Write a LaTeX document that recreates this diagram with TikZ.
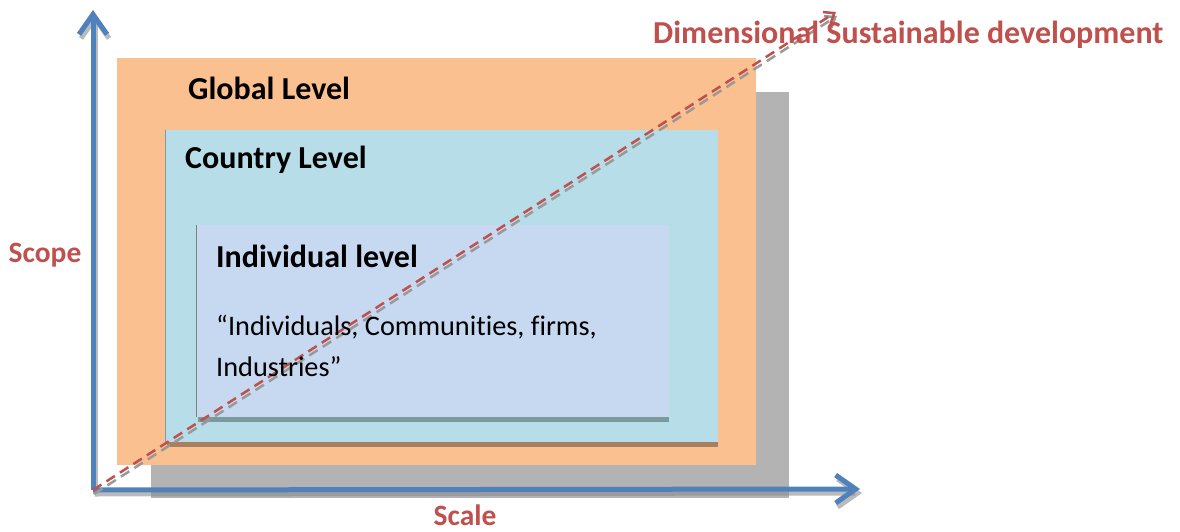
\documentclass[tikz,border=0pt]{standalone}
\usepackage{fontspec}
\setmainfont{Carlito}[RawFeature=-liga]
\usetikzlibrary{arrows.meta}
\definecolor{axisblue}{HTML}{4F81BD}
\definecolor{accentred}{HTML}{C0504D}
\definecolor{globalfill}{HTML}{FAC090}
\definecolor{countryfill}{HTML}{B7DDE8}
\definecolor{indivfill}{HTML}{C6D9F1}
\definecolor{backgray}{HTML}{B3B3B3}
\definecolor{brownshadow}{HTML}{A9805F}
\definecolor{tealshadow}{HTML}{7A9A9E}
\definecolor{axshadow}{HTML}{8C8C8C}
\begin{document}
\begin{tikzpicture}[x=1pt,y=-1pt,
  leveltitle/.style={anchor=west,inner sep=0pt,font=\fontsize{32}{38}\selectfont\bfseries},
  bodytext/.style={anchor=west,inner sep=0pt,font=\fontsize{28.3}{34}\selectfont},
  redlabel/.style={inner sep=0pt,text=accentred,font=\fontsize{29.5}{34}\selectfont\bfseries},
  redtitle/.style={inner sep=0pt,anchor=west,text=accentred,font=\fontsize{32}{38}\selectfont\bfseries},
  axisline/.style={draw=axisblue,line width=5pt,-{Straight Barb[length=20pt,width=28pt]}},
  axisshadow/.style={draw=axshadow,opacity=0.6,line width=5pt,-{Straight Barb[length=20pt,width=28pt]}},
  diagline/.style={draw=accentred,line width=2.5pt,dash pattern=on 10pt off 6pt,-{Straight Barb[length=9pt,width=14pt]}},
  diagshadow/.style={draw=gray!80,line width=2.5pt,dash pattern=on 10pt off 6pt,-{Straight Barb[length=9pt,width=14pt]}}]
\useasboundingbox (0,0) rectangle (1180,532);
% boxes
\fill[backgray] (151,92) rectangle (789,498);
\fill[globalfill] (117,58) rectangle (756,465);
\fill[brownshadow] (167,436) rectangle (718,447);
\fill[countryfill] (165,130) rectangle (718,442);
\draw[countryfill!70!black,line width=0.6pt] (165,442) -- (165,130);
\fill[tealshadow] (198,412) rectangle (669,422);
\fill[indivfill] (196,225) rectangle (669,417);
\draw[gray,line width=0.6pt] (196,417) -- (196,225);
% coordinates
\coordinate (origin) at (93,490);
\coordinate (ytip) at (93,10);
\coordinate (xtip) at (860,489);
\coordinate (dtip) at (836,12);
\coordinate (origins) at (95,494);
\coordinate (ytips) at (95,14);
\coordinate (xtips) at (862,493);
\coordinate (origind) at (94,494);
\coordinate (dtipd) at (837,16);
% axes
\draw[axisshadow] (origins) -- (ytips);
\draw[axisshadow] (origins) -- (xtips);
\draw[axisline] (origin) -- (ytip);
\draw[axisline] (origin) -- (xtip);
% diagonal
\draw[diagshadow] (origind) -- (dtipd);
\draw[diagline] (origin) -- (dtip);
% texts
\node[leveltitle] (global) at (188,88) {Global Level};
\node[leveltitle] (country) at (185,160) {Country Level};
\node[leveltitle] (indiv) at (216,256) {Individual level};
\node[bodytext] (members1) at (216,327) {“Individuals, Communities, firms,};
\node[bodytext] (members2) at (216,367) {Industries”};
\node[redlabel] (scope) at (45,255) {Scope};
\node[redlabel] (scale) at (465,515) {Scale};
\node[redtitle] (sustain) at (653,35) {Dimensional Sustainable development};
\end{tikzpicture}
\end{document}
